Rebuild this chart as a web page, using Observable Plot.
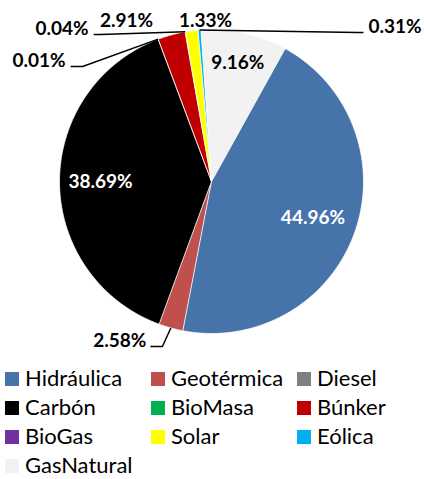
<!DOCTYPE html>
<html>
<head>
<meta charset="utf-8">
<script src="https://cdn.jsdelivr.net/npm/d3@7"></script>
<script src="https://cdn.jsdelivr.net/npm/@observablehq/plot@0.6"></script>
<style>
  html, body { margin: 0; padding: 0; background: #fff; }
  #chart svg { display: block; }
  #legend {
    display: grid;
    grid-template-columns: 146px 146px 132px;
    margin-left: 5px;
    font-family: Lato, sans-serif;
    font-size: 22px;
    color: #000;
    padding-top: 1px;
  }
  #legend .item { height: 29px; line-height: 29px; white-space: nowrap; }
  #legend .sw { display: inline-block; width: 14px; height: 14px; margin-right: 6px; vertical-align: baseline; }
</style>
</head>
<body>
<div id="chart"></div>
<div id="legend"></div>
<script>
// ---- data ----
const categories = ["Hidráulica", "Geotérmica", "Diesel", "Carbón", "BioMasa", "Búnker", "BioGas", "Solar", "Eólica", "GasNatural"];
const shares = [44.96, 2.58, 0, 38.69, 0.01, 2.91, 0.04, 1.33, 0.31, 9.16];
const colors = ["#4673A9", "#C0504D", "#808080", "#000000", "#00B050", "#C00000", "#7030A0", "#FFFF00", "#00B0F0", "#F2F2F2"];

// ---- layout (pixels) ----
const W = 424, H = 362;
const CX = 211, CY = 181, R = 152;
const START_DEG = 29;
const fmt = v => d3.format(".2f")(v) + "%";

// inside labels: fraction of radius along slice mid-angle
const insideLayout = {
  "Hidráulica": {r: 0.71, fill: "white"},
  "Carbón": {r: 0.73, fill: "white"},
  "GasNatural": {r: 0.80, fill: "black"}
};
// outside labels: pixel offsets from slice edge mid-point
const outsideLayout = {
  "Geotérmica": {elbow: [-8.4, 18.5], end: [-20.4, 18.5], text: [-4, 1], anchor: "end"},
  "BioMasa":    {elbow: [-75.6, 27.3], end: [-87.6, 27.3], text: [-5, 0.5], anchor: "end"},
  "BioGas":     {elbow: [-84.6, 2.7], end: [-91.6, 2.7], text: [-5, 1], anchor: "end"},
  "Búnker":     {text: [-44.9, -7.4], anchor: "middle"},
  "Solar":      {text: [13.9, -3.3], anchor: "middle"},
  "Eólica":     {elbow: [158, 2.5], end: [164, 2.5], text: [5, 0.5], anchor: "start"}
};

// ---- geometry via d3.pie ----
const a0 = START_DEG * Math.PI / 180;
const arcs = d3.pie().sort(null).startAngle(a0).endAngle(a0 + 2 * Math.PI)(shares);

const slicePts = [];
arcs.forEach((a, i) => {
  if (a.value <= 0) return;
  const cat = categories[i];
  slicePts.push({cat, x: 0, y: 0});
  const n = Math.max(2, Math.ceil((a.endAngle - a.startAngle) / (Math.PI / 360)));
  for (let k = 0; k <= n; k++) {
    const t = a.startAngle + (a.endAngle - a.startAngle) * k / n;
    slicePts.push({cat, x: Math.sin(t), y: Math.cos(t)});
  }
});

// pixel offset -> data units
const off = (p, d) => ({x: p.x + d[0] / R, y: p.y - d[1] / R});

const insideText = [], outsideText = [], leaders = [];
arcs.forEach((a, i) => {
  const cat = categories[i];
  const mid = (a.startAngle + a.endAngle) / 2;
  const edge = {x: Math.sin(mid), y: Math.cos(mid)};
  if (insideLayout[cat]) {
    const L = insideLayout[cat];
    insideText.push({cat, x: edge.x * L.r, y: edge.y * L.r, text: fmt(a.value), fill: L.fill});
  }
  if (outsideLayout[cat]) {
    const L = outsideLayout[cat];
    let base = edge;
    if (L.elbow) {
      const e = off(edge, L.elbow), en = off(edge, L.end);
      leaders.push({cat, ...edge}, {cat, ...e}, {cat, ...en});
      base = en;
    }
    const tp = off(base, L.text);
    outsideText.push({cat, x: tp.x, y: tp.y, text: fmt(a.value), anchor: L.anchor});
  }
});

const textOpts = {fontFamily: "Lato, sans-serif", fontWeight: "bold", fontSize: 19};

const chart = Plot.plot({
  width: W, height: H,
  margin: 0,
  style: {fontFamily: "Lato, sans-serif", background: "white"},
  x: {domain: [-1, 1], range: [CX - R, CX + R], axis: null},
  y: {domain: [-1, 1], range: [CY + R, CY - R], axis: null},
  color: {domain: categories, range: colors},
  marks: [
    Plot.line(slicePts, {x: "x", y: "y", z: "cat", fill: "cat", stroke: "white", strokeWidth: 0.8, strokeLinejoin: "round"}),
    Plot.line(leaders, {x: "x", y: "y", z: "cat", stroke: "black", strokeWidth: 1.5, strokeLinecap: "butt", strokeLinejoin: "miter"}),
    Plot.text(insideText, {x: "x", y: "y", text: "text", fill: d => d.fill, ...textOpts}),
    Plot.text(outsideText.filter(d => d.anchor === "end"), {x: "x", y: "y", text: "text", textAnchor: "end", lineAnchor: "bottom", fill: "black", ...textOpts}),
    Plot.text(outsideText.filter(d => d.anchor === "start"), {x: "x", y: "y", text: "text", textAnchor: "start", lineAnchor: "bottom", fill: "black", ...textOpts}),
    Plot.text(outsideText.filter(d => d.anchor === "middle"), {x: "x", y: "y", text: "text", textAnchor: "middle", lineAnchor: "bottom", fill: "black", ...textOpts})
  ]
});
document.getElementById("chart").appendChild(chart);

// ---- legend ----
const legend = document.getElementById("legend");
categories.forEach((c, i) => {
  const item = document.createElement("div");
  item.className = "item";
  const sw = document.createElement("span");
  sw.className = "sw";
  sw.style.background = colors[i];
  item.appendChild(sw);
  item.appendChild(document.createTextNode(c));
  legend.appendChild(item);
});
</script>
</body>
</html>
